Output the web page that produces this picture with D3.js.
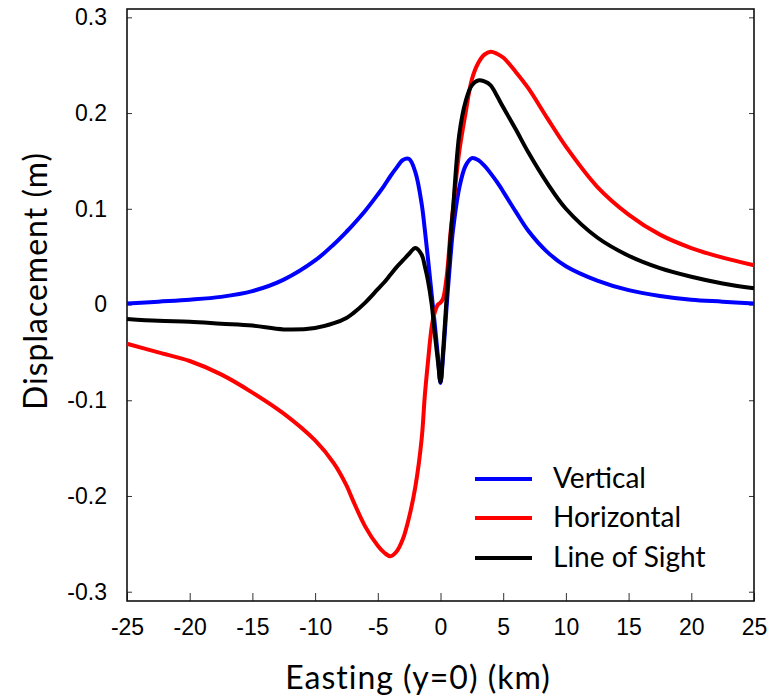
<!DOCTYPE html>
<html><head><meta charset="utf-8">
<script src="https://cdn.jsdelivr.net/npm/d3@7"></script>
<style>body{margin:0;background:#fff}</style>
</head><body>
<svg id="c" width="778" height="696"></svg>
<script>
const easting = [-25,-22.5,-20,-17.5,-15,-12.5,-10,-8.5,-7.5,-7,-6,-5,-4.5,-4,-3.5,-3,-2.5,-2,-1.5,-1.25,-1,-0.7,-0.5,-0.2,0,0.2,0.5,0.8,1,1.5,2,2.5,3,3.5,4,4.5,5,6,7,8.5,10,12.5,15,17.5,20,22.5,25];
const vertical = [0.001,0.003,0.005,0.008,0.014,0.026,0.046,0.063,0.076,0.083,0.098,0.115,0.124,0.134,0.143,0.151,0.152,0.138,0.105,0.078,0.048,0.010,-0.015,-0.055,-0.082,-0.055,0.000,0.050,0.078,0.122,0.145,0.153,0.151,0.145,0.137,0.128,0.118,0.097,0.077,0.055,0.040,0.025,0.015,0.009,0.005,0.003,0.001];
const horizontal = [-0.041,-0.050,-0.059,-0.073,-0.092,-0.114,-0.142,-0.166,-0.189,-0.204,-0.232,-0.252,-0.259,-0.263,-0.258,-0.245,-0.222,-0.190,-0.140,-0.095,-0.060,-0.023,-0.010,0.000,0.002,0.006,0.030,0.075,0.100,0.160,0.200,0.235,0.252,0.261,0.264,0.262,0.258,0.243,0.226,0.195,0.165,0.123,0.094,0.073,0.059,0.049,0.041];
const lineOfSight = [-0.015,-0.017,-0.018,-0.020,-0.022,-0.026,-0.0245,-0.0195,-0.014,-0.0095,0.002,0.016,0.023,0.031,0.039,0.046,0.053,0.059,0.052,0.040,0.025,0.000,-0.025,-0.060,-0.081,-0.050,0.010,0.070,0.100,0.178,0.212,0.229,0.234,0.233,0.229,0.218,0.206,0.183,0.159,0.127,0.100,0.070,0.051,0.038,0.029,0.022,0.017];
const xTicks = [-25,-20,-15,-10,-5,0,5,10,15,20,25];
const yTicks = [-0.3,-0.2,-0.1,0,0.1,0.2,0.3];
const seriesNames = ["Vertical","Horizontal","Line of Sight"];
const seriesColors = ["#0000ff","#ff0000","#000000"];

const svg = d3.select("#c");
const L = 127, R = 754, T = 9, B = 601;
const x = d3.scaleLinear().domain([-25,25]).range([L,R]);
const y = d3.scaleLinear().domain([-0.3097,0.3087]).range([B,T]);

const fmtY = d => d === 0 ? "0" : (d < 0 ? "-" : "") + Math.abs(d).toFixed(1);
const fmtX = d => (d < 0 ? "-" : "") + Math.abs(d);

// bottom axis
const gx = svg.append("g").attr("transform",`translate(0,${B})`)
  .call(d3.axisBottom(x).tickValues(xTicks).tickSizeInner(-8).tickSizeOuter(0).tickPadding(18).tickFormat(fmtX));
gx.select(".domain").remove();
gx.selectAll("text").attr("font-family","Liberation Sans, Arial, sans-serif").attr("font-size",23).attr("fill","#000");
gx.selectAll("line").attr("stroke","#333");

// left axis
const gy = svg.append("g").attr("transform",`translate(${L},0)`)
  .call(d3.axisLeft(y).tickValues(yTicks).tickSizeInner(-5).tickSizeOuter(0).tickPadding(20).tickFormat(fmtY));
gy.select(".domain").remove();
gy.selectAll("text").attr("font-family","Liberation Sans, Arial, sans-serif").attr("font-size",23).attr("fill","#000");
gy.selectAll("line").attr("stroke","#333");

// right axis ticks
const gr = svg.append("g").attr("transform",`translate(${R},0)`)
  .call(d3.axisRight(y).tickValues(yTicks).tickSizeInner(-5).tickSizeOuter(0).tickFormat(""));
gr.select(".domain").remove();
gr.selectAll("line").attr("stroke","#333");

// frame
svg.append("rect").attr("x",L).attr("y",T).attr("width",R-L).attr("height",B-T)
  .attr("fill","none").attr("stroke","#111").attr("stroke-width",1.6);

// lines
const line = d3.line().x((d,i)=>x(easting[i])).y(d=>y(d)).curve(d3.curveCatmullRom.alpha(0.5));
[vertical,horizontal,lineOfSight].forEach((s,k)=>{
  svg.append("path").datum(s).attr("d",line).attr("fill","none")
    .attr("stroke",seriesColors[k]).attr("stroke-width",4).attr("stroke-linejoin","round");
});

// legend
const legY = [479,518,558];
seriesNames.forEach((n,k)=>{
  svg.append("line").attr("x1",475).attr("x2",532).attr("y1",legY[k]).attr("y2",legY[k])
    .attr("stroke",seriesColors[k]).attr("stroke-width",4);
  svg.append("text").attr("x",553).attr("y",legY[k]+9).text(n)
    .attr("font-family","Lato, 'Open Sans', sans-serif").attr("font-size",28).attr("fill","#000");
});

// axis titles
svg.append("text").attr("x",418).attr("y",689).attr("text-anchor","middle")
  .attr("font-family","Lato, 'Open Sans', sans-serif").attr("font-size",32).attr("letter-spacing",1).attr("fill","#000")
  .text("Easting (y=0) (km)");
svg.append("text").attr("transform","translate(47,281) rotate(-90)").attr("text-anchor","middle")
  .attr("font-family","Lato, 'Open Sans', sans-serif").attr("font-size",32).attr("letter-spacing",1).attr("fill","#000")
  .text("Displacement (m)");
</script>
</body></html>
